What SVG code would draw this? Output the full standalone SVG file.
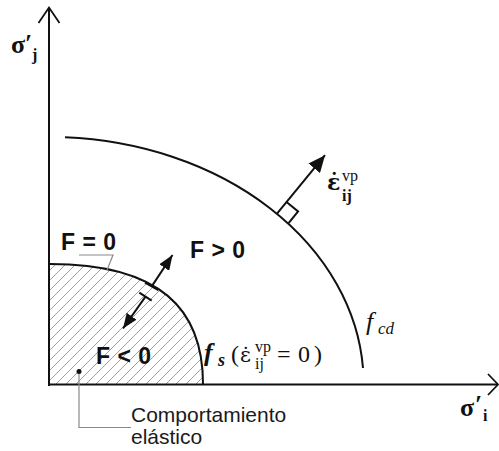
<svg xmlns="http://www.w3.org/2000/svg" width="499" height="451" viewBox="0 0 499 451">
<style>
.ax{stroke:#111;stroke-width:2;fill:none}
.chev{stroke:#111;stroke-width:1.8;fill:none}
.curve{stroke:#111;stroke-width:2;fill:none}
.arr{stroke:#111;stroke-width:2;fill:none}
.lead{stroke:#8a8a8a;stroke-width:1.2;fill:none}
.F{font-family:"Liberation Sans",Arial,sans-serif;font-weight:bold;font-size:23px;fill:#111;word-spacing:1px}
.lab{font-family:"Liberation Sans",Arial,sans-serif;font-size:21px;fill:#1a1a1a}
.sig{font-family:"Liberation Serif","DejaVu Serif",serif;font-weight:bold;font-size:26px;fill:#111}
.sub{font-family:"Liberation Serif","DejaVu Serif",serif;font-weight:bold;font-size:16px;fill:#111}
.math{font-family:"Liberation Serif","DejaVu Serif",serif;font-size:24px;fill:#111}
.eps{font-family:"DejaVu Serif",serif;fill:#111}
.msm{font-family:"Liberation Serif","DejaVu Serif",serif;font-size:16px;fill:#111}
.fi{font-family:"Liberation Serif","DejaVu Serif",serif;font-style:italic;fill:#111}
</style>
<defs>
<pattern id="hatch" patternUnits="userSpaceOnUse" width="10" height="10">
<path d="M-1,1 L1,-1 M0,10 L10,0 M9,11 L11,9" stroke="#a0a0a0" stroke-width="1"/>
</pattern>
<marker id="hs" markerUnits="userSpaceOnUse" viewBox="0 0 15 12" refX="15" refY="6" markerWidth="15" markerHeight="12" orient="auto">
<path d="M0,0 L15,6 L0,12 z" fill="#111"/>
</marker>
<marker id="hl" markerUnits="userSpaceOnUse" viewBox="0 0 17 15" refX="17" refY="7.5" markerWidth="17" markerHeight="15" orient="auto">
<path d="M0,0 L17,7.5 L0,15 z" fill="#111"/>
</marker>
</defs>

<g id="elastic-region">
<path d="M49,384 L49,264 L50,264 C160,264 203,309 203,384 Z" fill="url(#hatch)" stroke="none"/>
</g>

<g id="axes">
<path class="ax" d="M49,386 L49,8"/>
<path class="chev" d="M38.5,23 L49,7.5 L59.5,23"/>
<path class="ax" d="M48,384.5 L497,384.5"/>
<path class="chev" d="M488,374 L498,384.5 L488,395"/>
<text class="sig" x="11" y="53">σ</text>
<text class="sig" x="25" y="52">′</text>
<text class="sub" x="32" y="60">j</text>
<text class="sig" x="460" y="416">σ</text>
<text class="sig" x="475" y="413">′</text>
<text class="sub" x="483" y="421">i</text>
</g>

<g id="fs-surface">
<path class="curve" d="M50,264 C160,264 203,309 203,384"/>
<text class="fi" x="204" y="361" font-size="26" font-weight="bold">f</text>
<text class="fi" x="218" y="366" font-size="18" font-weight="bold">s</text>
<text class="math" x="231" y="362">(</text>
<text class="eps" x="240" y="362" font-size="21">ε&#x307;</text>
<text class="msm" x="255" y="352">vp</text>
<text class="msm" x="255" y="369">ij</text>
<text class="math" x="277" y="362" font-size="26">=</text>
<text class="math" x="298" y="362">0</text>
<text class="math" x="314" y="362">)</text>
</g>

<g id="fcd-surface">
<path class="curve" d="M65,137.3 A315,247 0 0 1 363,368"/>
<text class="fi" x="366" y="330" font-size="26">f</text>
<text class="fi" x="378" y="334" font-size="17">cd</text>
</g>

<g id="strain-rate">
<path class="arr" d="M286.5,202 L298.1,211.5 L288.6,223.1"/>
<text class="eps" x="327" y="190" font-size="22" font-weight="bold">ε&#x307;</text>
<text class="msm" x="342" y="181" font-size="17">vp</text>
<text class="msm" x="342" y="201" font-size="17" font-weight="bold">ij</text>
</g>

<g id="labels">
<text class="F" x="61" y="250">F = 0</text>
<text class="F" x="190" y="258">F &gt; 0</text>
<text class="F" x="96" y="364">F &lt; 0</text>
<circle cx="79" cy="371.5" r="2.5" fill="#111"/>
<text class="lab" x="131" y="422">Comportamiento</text>
<text class="lab" x="131" y="444">elástico</text>
</g>

<g id="connectors">
<path class="arr" d="M277,213.6 L325,155.2" marker-end="url(#hl)"/>
<path class="arr" d="M145,282.7 L158.3,290"/>
<path class="arr" d="M151.7,286.4 L172.5,255" marker-end="url(#hs)"/>
<path class="arr" d="M139.3,292.7 L151.7,300.7"/>
<path class="arr" d="M145.5,296.7 L123,328.5" marker-end="url(#hs)"/>
<path class="lead" d="M79,374 L79,427.5 L131,427.5"/>
<path class="lead" d="M79,255 L113,255 L107,270"/>
</g>
</svg>
